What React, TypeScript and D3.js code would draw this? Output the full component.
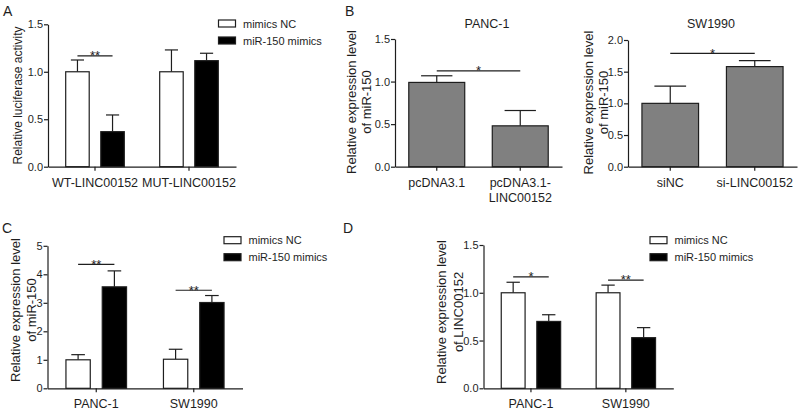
import React, { useEffect, useRef } from "react";
import * as d3 from "d3";

const seriesNames = ["mimics NC", "miR-150 mimics"];

// panel A: luciferase
const groupsA = ["WT-LINC00152", "MUT-LINC00152"];
const ncA = [1.0, 1.0];
const ncErrA = [0.124, 0.23];
const mimicsA = [0.369, 1.117];
const mimicsErrA = [0.176, 0.078];
const ticksA = [0, 0.5, 1.0, 1.5];
const sigA = [{ i: 0, mark: "**", at: 1.167 }];

// panel B left: PANC-1
const catsB1 = [["pcDNA3.1"], ["pcDNA3.1-", "LINC00152"]];
const valuesB1 = [0.99, 0.48];
const errB1 = [0.078, 0.18];
const ticksB1 = [0, 0.5, 1.0, 1.5];
const sigB1 = { mark: "*", at: 1.126 };

// panel B right: SW1990
const catsB2 = [["siNC"], ["si-LINC00152"]];
const valuesB2 = [1.0, 1.58];
const errB2 = [0.272, 0.093];
const ticksB2 = [0, 0.5, 1.0, 1.5, 2.0];
const sigB2 = { mark: "*", at: 1.79 };

// panels C, D
const groupsCD = ["PANC-1", "SW1990"];
const ncC = [1.0, 1.02];
const ncErrC = [0.18, 0.35];
const mimicsC = [3.56, 3.01];
const mimicsErrC = [0.56, 0.245];
const ticksC = [0, 1, 2, 3, 4, 5];
const sigC = [
  { i: 0, mark: "**", at: 4.35 },
  { i: 1, mark: "**", at: 3.44 },
];

const ncD = [1.0, 1.0];
const ncErrD = [0.11, 0.08];
const mimicsD = [0.7, 0.53];
const mimicsErrD = [0.07, 0.105];
const ticksD = [0, 0.5, 1.0, 1.5];
const sigD = [
  { i: 0, mark: "*", at: 1.167 },
  { i: 1, mark: "**", at: 1.133 },
];

const FONT = "'Liberation Sans', Arial, Helvetica, sans-serif";
const INK = "#1e1e1e";
const SW = 1.2;

function yAxis(svg, y, ticks, fmt, x) {
  const ax = svg
    .append("g")
    .attr("transform", `translate(${x},0)`)
    .call(d3.axisLeft(y).tickValues(ticks).tickFormat(d3.format(fmt)).tickSize(4).tickSizeOuter(0).tickPadding(1));
  ax.select(".domain").attr("stroke", INK).attr("stroke-width", SW);
  ax.selectAll(".tick line").attr("stroke", INK).attr("stroke-width", SW);
  ax.selectAll(".tick text").attr("font-family", FONT).attr("font-size", 11).attr("fill", INK);
}

function xAxis(svg, x, y0) {
  const ax = svg
    .append("g")
    .attr("transform", `translate(0,${y0})`)
    .call(d3.axisBottom(x).tickSize(4).tickSizeOuter(0).tickFormat(() => ""));
  ax.select(".domain").attr("stroke", INK).attr("stroke-width", SW);
  ax.selectAll(".tick line").attr("stroke", INK).attr("stroke-width", SW);
}

function rotLabel(svg, lines, xs, cy, size) {
  lines.forEach((t, k) => {
    svg
      .append("text")
      .attr("transform", `translate(${xs[k]},${cy}) rotate(-90)`)
      .attr("text-anchor", "middle")
      .attr("font-family", FONT)
      .attr("font-size", size)
      .attr("fill", INK)
      .text(t);
  });
}

function txt(svg, x, y, s, size, anchor = "middle") {
  svg
    .append("text")
    .attr("x", x)
    .attr("y", y)
    .attr("text-anchor", anchor)
    .attr("font-family", FONT)
    .attr("font-size", size)
    .attr("fill", INK)
    .text(s);
}

function bar(svg, cx, bw, y, v, e, fill) {
  const cap = bw * 0.56;
  svg.append("line").attr("x1", cx).attr("x2", cx).attr("y1", y(v)).attr("y2", y(v + e))
    .attr("stroke", INK).attr("stroke-width", SW);
  svg.append("line").attr("x1", cx - cap / 2).attr("x2", cx + cap / 2).attr("y1", y(v + e)).attr("y2", y(v + e))
    .attr("stroke", INK).attr("stroke-width", SW);
  svg.append("rect").attr("x", cx - bw / 2).attr("y", y(v)).attr("width", bw).attr("height", y(0) - y(v))
    .attr("fill", fill).attr("stroke", INK).attr("stroke-width", SW);
}

function sigMark(svg, xa, xb, yy, mark) {
  svg.append("line").attr("x1", xa).attr("x2", xb).attr("y1", yy).attr("y2", yy)
    .attr("stroke", INK).attr("stroke-width", SW);
  txt(svg, (xa + xb) / 2, yy + 4.3, mark, 13);
}

function drawGrouped(svg, c) {
  const y = d3.scaleLinear().domain([0, c.ticks[c.ticks.length - 1]]).range([c.yBase, c.yTop]);
  const x = d3.scaleBand().domain(c.groups).range([c.x0, c.x1]);
  const inner = d3.scaleBand().domain(seriesNames).range([-c.half, c.half]).paddingInner(0.33);
  const series = [
    { name: seriesNames[0], vals: c.nc, errs: c.ncErr, fill: "#fff" },
    { name: seriesNames[1], vals: c.mim, errs: c.mimErr, fill: "#000" },
  ];
  const cxOf = (g, name) => x(g) + x.bandwidth() / 2 + inner(name) + inner.bandwidth() / 2;

  series.forEach((s) => {
    c.groups.forEach((g, i) => bar(svg, cxOf(g, s.name), inner.bandwidth(), y, s.vals[i], s.errs[i], s.fill));
  });
  yAxis(svg, y, c.ticks, c.fmt, c.x0);
  xAxis(svg, x, c.yBase);
  c.groups.forEach((g) => txt(svg, x(g) + x.bandwidth() / 2, c.yBase + 20, g, 12.5));
  c.sig.forEach((s) => {
    const g = c.groups[s.i];
    sigMark(svg, cxOf(g, seriesNames[0]), cxOf(g, seriesNames[1]), y(s.at), s.mark);
  });
  series.forEach((s, k) => {
    const ly = c.legendY + k * 17;
    svg.append("rect").attr("x", c.legendX).attr("y", ly).attr("width", 17).attr("height", 7)
      .attr("fill", s.fill).attr("stroke", INK).attr("stroke-width", SW);
    txt(svg, c.legendX + 24.5, ly + 7.5, s.name, 11, "start");
  });
  rotLabel(svg, c.yLabel, c.yLabelX, c.yLabelY, c.yLabelSize);
}

function drawSingle(svg, c) {
  const y = d3.scaleLinear().domain([0, c.ticks[c.ticks.length - 1]]).range([c.yBase, c.yTop]);
  const keys = c.cats.map((l) => l.join(" "));
  const x = d3.scaleBand().domain(keys).range([c.x0, c.x1]).paddingInner(0.33).paddingOuter(0.165);
  const cx = (k) => x(k) + x.bandwidth() / 2;
  keys.forEach((k, i) => bar(svg, cx(k), x.bandwidth(), y, c.vals[i], c.errs[i], "#808080"));
  yAxis(svg, y, c.ticks, c.fmt, c.x0);
  xAxis(svg, x, c.yBase);
  c.cats.forEach((lines, i) =>
    lines.forEach((l, j) => txt(svg, cx(keys[i]), c.yBase + 20 + j * 15, l, 12.5))
  );
  sigMark(svg, cx(keys[0]), cx(keys[1]), y(c.sig.at), c.sig.mark);
  txt(svg, c.titleX, 28, c.title, 12.5);
  rotLabel(svg, c.yLabel, c.yLabelX, c.yLabelY, 13);
}

export default function App() {
  const ref = useRef(null);

  useEffect(() => {
    const svg = d3.select(ref.current);
    svg.selectAll("*").remove();

    drawGrouped(svg, {
      groups: groupsA, nc: ncA, ncErr: ncErrA, mim: mimicsA, mimErr: mimicsErrA,
      ticks: ticksA, fmt: ".1f", sig: sigA,
      x0: 48, x1: 236, yBase: 166.7, yTop: 24.3, half: 29.3,
      yLabel: ["Relative luciferase activity"], yLabelX: [22], yLabelY: 95.5, yLabelSize: 12,
      legendX: 218.5, legendY: 20,
    });

    drawSingle(svg, {
      cats: catsB1, vals: valuesB1, errs: errB1, ticks: ticksB1, fmt: ".1f", sig: sigB1,
      x0: 395, x1: 562, yBase: 166.7, yTop: 39, title: "PANC-1", titleX: 487,
      yLabel: ["Relative expression level", "of miR-150"], yLabelX: [356, 371.3], yLabelY: 102,
    });

    drawSingle(svg, {
      cats: catsB2, vals: valuesB2, errs: errB2, ticks: ticksB2, fmt: ".1f", sig: sigB2,
      x0: 628, x1: 797, yBase: 166.7, yTop: 40, title: "SW1990", titleX: 711,
      yLabel: ["Relative expression level", "of miR-150"], yLabelX: [592.5, 607.8], yLabelY: 102.5,
    });

    drawGrouped(svg, {
      groups: groupsCD, nc: ncC, ncErr: ncErrC, mim: mimicsC, mimErr: mimicsErrC,
      ticks: ticksC, fmt: "d", sig: sigC,
      x0: 47.5, x1: 242.5, yBase: 388.3, yTop: 245.8, half: 30.3,
      yLabel: ["Relative expression level", "of miR-150"], yLabelX: [19.5, 35.8], yLabelY: 310, yLabelSize: 13,
      legendX: 224, legendY: 236.7,
    });

    drawGrouped(svg, {
      groups: groupsCD, nc: ncD, ncErr: ncErrD, mim: mimicsD, mimErr: mimicsErrD,
      ticks: ticksD, fmt: ".1f", sig: sigD,
      x0: 483.5, x1: 673.3, yBase: 388.3, yTop: 245, half: 29.7,
      yLabel: ["Relative expression level", "of LINC00152"], yLabelX: [446, 462.5], yLabelY: 312, yLabelSize: 13,
      legendX: 650, legendY: 236.7,
    });

    // panel letters
    txt(svg, 3, 16, "A", 14, "start");
    txt(svg, 345, 16, "B", 14, "start");
    txt(svg, 2, 232.5, "C", 14, "start");
    txt(svg, 343, 232.5, "D", 14, "start");
  }, []);

  return (
    <svg
      ref={ref}
      width={800}
      height={414}
      style={{ position: "absolute", left: 0, top: 0, background: "#fff" }}
    />
  );
}
